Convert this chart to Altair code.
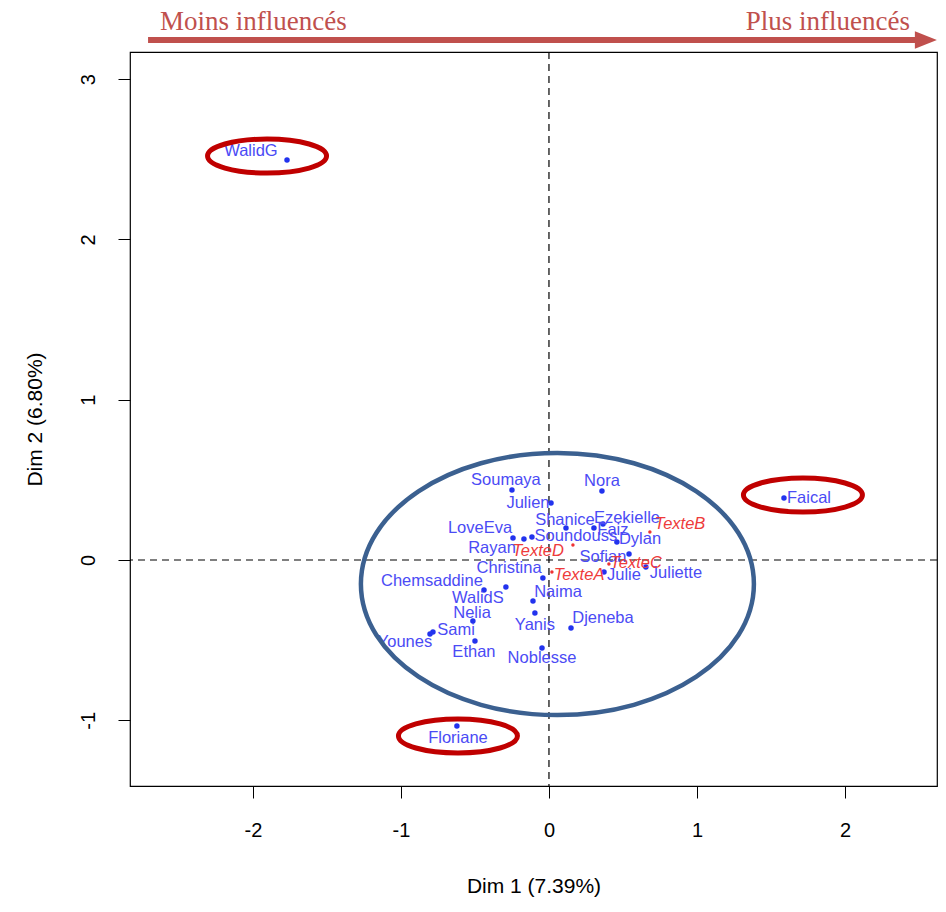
import altair as alt
import pandas as pd

# ---- individuals (rows) ----
ind_names = ["WalidG", "Faical", "Floriane", "Nora", "Soumaya", "Julien", "LoveEva", "Rayan",
             "Soundouss", "Shanice", "Ezekielle", "Faiz", "Dylan", "Sofian", "Julie", "Juliette",
             "Christina", "Naima", "Chemsaddine", "WalidS", "Nelia", "Sami", "Younes", "Ethan",
             "Yanis", "Noblesse", "Djeneba"]
ind_x = [-1.770, 1.588, -0.622, 0.358, -0.250, 0.014, -0.243, -0.169,
         -0.115, 0.115, 0.365, 0.304, 0.459, 0.541, 0.372, 0.655,
         -0.291, -0.041, -0.439, -0.108, -0.514, -0.784, -0.804, -0.500,
         -0.095, -0.047, 0.149]
ind_y = [2.495, 0.387, -1.036, 0.430, 0.437, 0.356, 0.137, 0.131,
         0.143, 0.200, 0.225, 0.200, 0.112, 0.037, -0.075, -0.044,
         -0.168, -0.112, -0.187, -0.256, -0.381, -0.449, -0.462, -0.505,
         -0.331, -0.549, -0.424]
ind_lab_x = [-2.014, 1.757, -0.615, 0.358, -0.291, -0.142, -0.466, -0.385,
             0.182, 0.108, 0.527, 0.432, 0.615, 0.365, 0.507, 0.858,
             -0.270, 0.061, -0.791, -0.480, -0.520, -0.628, -0.973, -0.507,
             -0.095, -0.047, 0.365]
ind_lab_y = [2.551, 0.387, -1.110, 0.493, 0.499, 0.356, 0.200, 0.075,
             0.150, 0.250, 0.262, 0.187, 0.131, 0.019, -0.094, -0.081,
             -0.050, -0.200, -0.131, -0.237, -0.331, -0.437, -0.512, -0.574,
             -0.405, -0.611, -0.362]

# ---- texts (columns) ----
txt_names = ["TexteA", "TexteB", "TexteC", "TexteD"]
txt_x = [0.020, 0.682, 0.405, 0.162]
txt_y = [-0.075, 0.175, -0.025, 0.094]
txt_lab_x = [0.203, 0.885, 0.588, -0.074]
txt_lab_y = [-0.094, 0.225, -0.019, 0.056]

# ---- highlighted groups (ellipse centres) ----
red_ell_x = [-1.905, 1.716, -0.615]
red_ell_y = [2.520, 0.405, -1.098]
blue_ell_x = [0.057]
blue_ell_y = [-0.150]

# ---- arrow annotation ----
arrow_labels = ["Moins influencés", "Plus influencés"]
arrow_label_x = [-2.628, 2.439]
arrow_label_y = [3.305, 3.305]
arrow_start = [-2.709]
arrow_end = [2.52]
arrow_y = [3.244]
head_x = [2.547]

XDOM = [-2.831, 2.622]
YDOM = [-1.410, 3.169]
x_ticks = [-2, -1, 0, 1, 2]
y_ticks = [-1, 0, 1, 2, 3]

ind = pd.DataFrame({"name": ind_names, "x": ind_x, "y": ind_y, "lx": ind_lab_x, "ly": ind_lab_y})
txt = pd.DataFrame({"name": txt_names, "x": txt_x, "y": txt_y, "lx": txt_lab_x, "ly": txt_lab_y})
red_ell = pd.DataFrame({"x": red_ell_x, "y": red_ell_y})
blue_ell = pd.DataFrame({"x": blue_ell_x, "y": blue_ell_y})
arr_txt = pd.DataFrame({"t": arrow_labels, "x": arrow_label_x, "y": arrow_label_y})
arr = pd.DataFrame({"x": arrow_start, "x2": arrow_end, "y": arrow_y})
head = pd.DataFrame({"x": head_x, "y": arrow_y})

xaxis = alt.Axis(values=x_ticks, grid=False, domain=False, tickSize=12, tickColor="black",
                 labelFont="Liberation Sans", labelFontSize=20, labelColor="black",
                 labelPadding=22, labelExpr="toString(datum.value)", labelFlush=False,
                 titleFont="Liberation Sans", titleFontSize=21, titleFontWeight="normal",
                 titleColor="black", titleY=100, titleBaseline="middle")
yaxis = alt.Axis(values=y_ticks, grid=False, domain=False, tickSize=12, tickColor="black",
                 labelFont="Liberation Sans", labelFontSize=20, labelColor="black",
                 labelAngle=270, labelAlign="center", labelBaseline="bottom",
                 labelPadding=20, labelExpr="toString(datum.value)", labelFlush=False,
                 titleFont="Liberation Sans", titleFontSize=21, titleFontWeight="normal",
                 titleColor="black", titleX=-95, titleBaseline="middle")


def X(f):
    return alt.X(f, type="quantitative", scale=alt.Scale(domain=XDOM, nice=False, zero=False),
                 axis=xaxis, title="Dim 1 (7.39%)")


def Y(f):
    return alt.Y(f, type="quantitative", scale=alt.Scale(domain=YDOM, nice=False, zero=False),
                 axis=yaxis, title="Dim 2 (6.80%)")


pts = alt.Chart(ind).mark_circle(size=30, color="#2233EE", opacity=1).encode(x=X("x"), y=Y("y"))
labs = alt.Chart(ind).mark_text(font="Liberation Sans", fontSize=16.5, color="#4B4BF5").encode(
    x=X("lx"), y=Y("ly"), text="name:N")
tpts = alt.Chart(txt).mark_circle(size=12, color="#EE3333", opacity=1).encode(x=X("x"), y=Y("y"))
tlabs = alt.Chart(txt).mark_text(font="Liberation Sans", fontSize=16.5, fontStyle="italic",
                                 color="#EE3B3B").encode(x=X("lx"), y=Y("ly"), text="name:N")

vline = alt.Chart(blue_ell).mark_rule(color="black", strokeDash=[7, 5], strokeWidth=1.2).encode(x=alt.datum(0))
hline = alt.Chart(blue_ell).mark_rule(color="black", strokeDash=[7, 5], strokeWidth=1.2).encode(y=alt.datum(0))

red_shape = "M -1 0 A 1 0.286 0 1 1 1 0 A 1 0.286 0 1 1 -1 0 Z"
blue_shape = "M -1 0 A 1 0.667 0 1 1 1 0 A 1 0.667 0 1 1 -1 0 Z"
red_e = alt.Chart(red_ell).mark_point(shape=red_shape, size=14161, color="#C00000", strokeWidth=5,
                                      opacity=1, filled=False).encode(x=X("x"), y=Y("y"))
blue_e = alt.Chart(blue_ell).mark_point(shape=blue_shape, size=154449, color="#3B6090", strokeWidth=4.5,
                                        opacity=1, filled=False).encode(x=X("x"), y=Y("y"))

arrow_line = alt.Chart(arr).mark_rule(color="#C0504D", strokeWidth=6).encode(
    x=X("x"), x2="x2", y=Y("y"))
arrow_head = alt.Chart(head).mark_point(shape="M -1 -0.8 L 1 0 L -1 0.8 Z", size=484, filled=True,
                                        color="#C0504D", opacity=1).encode(x=X("x"), y=Y("y"))
arrow_left = alt.Chart(arr_txt.iloc[[0]]).mark_text(font="Liberation Serif", fontSize=27, color="#C0504D",
                                                     align="left", baseline="alphabetic").encode(
    x=X("x"), y=Y("y"), text="t:N")
arrow_right = alt.Chart(arr_txt.iloc[[1]]).mark_text(font="Liberation Serif", fontSize=27, color="#C0504D",
                                                      align="right", baseline="alphabetic").encode(
    x=X("x"), y=Y("y"), text="t:N")

chart = alt.layer(
    vline, hline, pts, labs, tpts, tlabs, red_e, blue_e, arrow_line, arrow_head, arrow_left, arrow_right
).properties(
    width=807, height=734,
    autosize=alt.AutoSizeParams(type="none"),
    padding={"left": 122, "top": 44, "right": 1, "bottom": 113},
    background="white",
).configure_view(stroke="black", strokeWidth=1.2)

chart.save("out.html", embed_options={"renderer": "svg", "actions": False})
